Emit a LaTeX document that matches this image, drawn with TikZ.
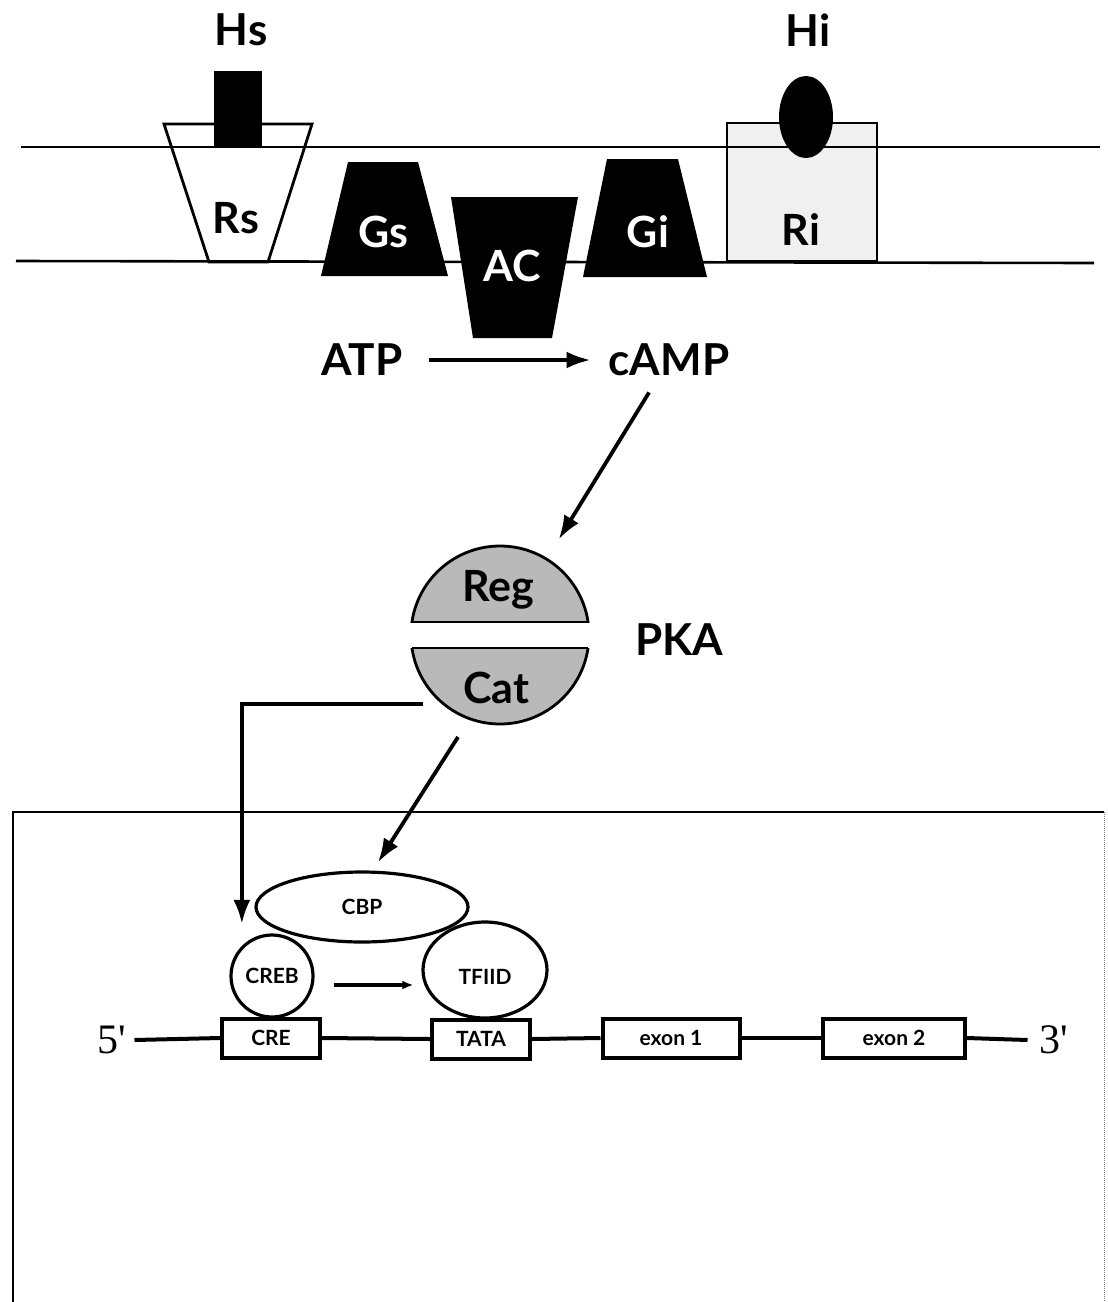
\documentclass[tikz,border=0pt]{standalone}
\usepackage{fontspec}
\setmainfont{Lato}
\newfontfamily\primefont{Liberation Serif}
\usetikzlibrary{arrows.meta,calc,shapes.geometric}
\begin{document}
\begin{tikzpicture}[x=1pt,y=-1pt,
  big/.style={font=\fontsize{44}{48}\selectfont\bfseries, inner sep=0pt},
  mid/.style={font=\fontsize{43}{47}\selectfont\bfseries, inner sep=0pt},
  small/.style={font=\fontsize{21}{24}\selectfont\bfseries},
  memb/.style={line width=2.6pt},
  blk/.style={fill=black},
  arr/.style={line width=3.8pt, -{Latex[length=24pt,width=17pt]}},
  genebox/.style={draw, line width=4pt, minimum height=39pt, inner sep=0pt, fill=white, small},
  prot/.style={draw, line width=3.2pt, inner sep=0pt, small},
  dna/.style={line width=4pt},
  ends/.style={font=\primefont\fontsize{42}{46}\selectfont, inner sep=0pt}]
\useasboundingbox (0,0) rectangle (1108,1302);
\fill[white] (0,0) rectangle (1108,1302);

% receptor Ri (gray box)
\draw[fill=gray!12, line width=2.8pt] (727,123) rectangle (877,261);
% receptor Rs (open trapezoid)
\draw[line width=2.8pt] (164,124) -- (312,124) -- (268,262) -- (209,262) -- cycle;
% membrane lines
\draw[memb] (21,147) -- (1100,147);
\draw[memb] (16,261) -- (1094,263);
% hormones
\fill[blk] (214,71) rectangle (262,147);
\fill[blk] (806,117) ellipse [x radius=27, y radius=41];
% G proteins and adenylate cyclase
\fill[blk] (348,162) -- (418,162) -- (448,276) -- (321,276) -- cycle;
\fill[blk] (451,197) -- (578,197) -- (552,338) -- (473,338) -- cycle;
\fill[blk] (607,159) -- (678,159) -- (707,277) -- (583,277) -- cycle;

\node[big] (hs) at (241,30) {Hs};
\node[big] (hi) at (808,30) {Hi};
\node[mid] (rs) at (236,218) {Rs};
\node[mid, text=white] (gs) at (383,232) {Gs};
\node[mid, text=white] (ac) at (512,266) {AC};
\node[mid, text=white] (gi) at (648,232) {Gi};
\node[mid] (ri) at (801,230) {Ri};

% ATP -> cAMP
\node[big] (atp) at (362,360) {ATP};
\node[big] (camp) at (669,360) {cAMP};
\draw[arr] ([xshift=26pt]atp.east) -- ([xshift=-18pt]camp.west);

% PKA
\node[circle, minimum size=178pt, inner sep=0pt] (pka) at (500,635) {};
\begin{scope}
  \clip (400,540) rectangle (600,622);
  \draw[fill=gray!55, line width=2.8pt] (pka.center) circle (89pt);
\end{scope}
\begin{scope}
  \clip (400,648) rectangle (600,730);
  \draw[fill=gray!55, line width=2.8pt] (pka.center) circle (89pt);
\end{scope}
\draw[line width=2.8pt] (412,622) -- (588,622);
\draw[line width=2.8pt] (412,648) -- (588,648);
\node[mid] (reg) at (498,590) {Reg};
\node[mid] (cat) at (496,688) {Cat};
\node[big] (pkal) at (679,640) {PKA};

\draw[arr, shorten <=19pt, shorten >=23pt] (camp) -- (pka);

% nucleus
\draw[line width=2.4pt] (13,1302) -- (13,812) -- (1104,812);
\draw[line width=1pt, densely dotted, gray] (1104,812) -- (1104,1302);

% nuclear factors
\node[prot, ellipse, minimum width=212pt, minimum height=70pt] (cbp) at (362,907) {CBP};
\node[prot, circle, minimum size=82pt] (creb) at (272,976) {CREB};
\node[prot, ellipse, minimum width=124pt, minimum height=96pt] (tfiid) at (485,970) {};
\node[small, inner sep=0pt] (tfiidl) at (485,977) {TFIID};

\coordinate (catout) at (458,737);
\coordinate (catleft) at (423,704);
\draw[arr] (catout) -- ([xshift=16pt,yshift=8pt]cbp.north);
\draw[arr] (catleft) -| ([yshift=22pt]creb.north west);
\draw[line width=3.5pt, -{Latex[length=11pt,width=9pt]}, shorten <=19pt, shorten >=8pt]
  ([yshift=-9pt]creb.east) -- ([yshift=-9pt]creb.east -| tfiid.west);

% gene
\node[ends] (five) at (112,1040) {5{\char"0027}};
\node[ends] (three) at (1054,1040) {3{\char"0027}};
\node[genebox, minimum width=98pt] (cre) at (271,1038) {CRE};
\node[genebox, minimum width=98pt] (tata) at (481,1039) {TATA};
\node[genebox, minimum width=137pt] (ex1) at (671,1038) {exon 1};
\node[genebox, minimum width=142pt] (ex2) at (894,1038) {exon 2};
\draw[dna] ([xshift=8pt]five.east) -- (cre.west);
\draw[dna] (cre.east) -- (tata.west);
\draw[dna] (tata.east) -- (ex1.west);
\draw[dna] (ex1.east) -- (ex2.west);
\draw[dna] (ex2.east) -- ([xshift=-12pt]three.west);
\end{tikzpicture}
\end{document}
